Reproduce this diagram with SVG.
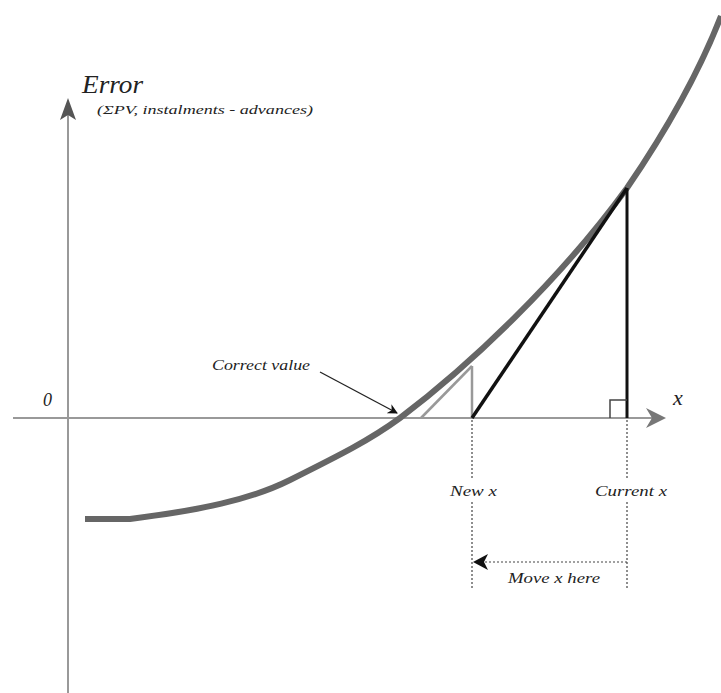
<svg xmlns="http://www.w3.org/2000/svg" width="721" height="693" viewBox="0 0 721 693">
<style>
text{font-family:"Liberation Serif","DejaVu Serif",serif;font-style:italic;fill:#222}
.ax{stroke:#999;stroke-width:2;fill:none}
.dot{stroke:#444;stroke-width:1.2;stroke-dasharray:2 2;fill:none}
</style>
<defs>
<marker id="ah" markerWidth="10" markerHeight="10" refX="9" refY="5" orient="auto" markerUnits="userSpaceOnUse">
<path d="M0,0 L10,5 L0,10 L3,5 Z" fill="#111"/>
</marker>
</defs>
<rect width="721" height="693" fill="#fff"/>
<g id="axes">
<line class="ax" x1="68" y1="693" x2="68" y2="110"/>
<path d="M60,120 L68,98 L76,120 L68,115 Z" fill="#555"/>
<line class="ax" x1="13" y1="418" x2="655" y2="418"/>
<path d="M646,408 L666,418 L646,428 L652,418 Z" fill="#777"/>
<text x="82" y="93" font-size="25" textLength="61" lengthAdjust="spacingAndGlyphs">Error</text>
<text x="97" y="114" font-size="13" textLength="216" lengthAdjust="spacingAndGlyphs" fill="#333">(ΣPV, instalments - advances)</text>
<text x="43" y="406" font-size="18">0</text>
<text x="673" y="405" font-size="22">x</text>
</g>
<g id="curve">
<path d="M85,519 L130,519 C200,510 250,500 290,480 C340,455 370,440 400,418 C470,365 560,280 627,188 C670,125 700,70 721,16" fill="none" stroke="#666" stroke-width="6"/>
</g>
<g id="tangents">
<line x1="472" y1="418" x2="472" y2="366" stroke="#999" stroke-width="2.5"/>
<line x1="421" y1="418" x2="472" y2="366" stroke="#999" stroke-width="2.5"/>
<line x1="472" y1="418" x2="627" y2="188" stroke="#111" stroke-width="3.5"/>
<line x1="627" y1="188" x2="627" y2="418" stroke="#111" stroke-width="3"/>
<path d="M610,418 L610,400 L627,400" fill="none" stroke="#444" stroke-width="1.5"/>
</g>
<g id="connectors">
<line x1="320" y1="372" x2="397" y2="413" stroke="#222" stroke-width="1.3" marker-end="url(#ah)"/>
<line class="dot" x1="472" y1="420" x2="472" y2="480"/>
<line class="dot" x1="472" y1="502" x2="472" y2="590"/>
<line class="dot" x1="627" y1="420" x2="627" y2="480"/>
<line class="dot" x1="627" y1="502" x2="627" y2="590"/>
<line class="dot" x1="627" y1="562" x2="478" y2="562"/>
<path d="M473,562 L488,554 L484,562 L488,570 Z" fill="#111"/>
</g>
<g id="labels">
<text x="212" y="370" font-size="14" textLength="98" lengthAdjust="spacingAndGlyphs">Correct value</text>
<text x="450" y="496" font-size="14" textLength="47" lengthAdjust="spacingAndGlyphs">New x</text>
<text x="595" y="496" font-size="14" textLength="72" lengthAdjust="spacingAndGlyphs">Current x</text>
<text x="508" y="583" font-size="14" textLength="92" lengthAdjust="spacingAndGlyphs">Move x here</text>
</g>
</svg>
